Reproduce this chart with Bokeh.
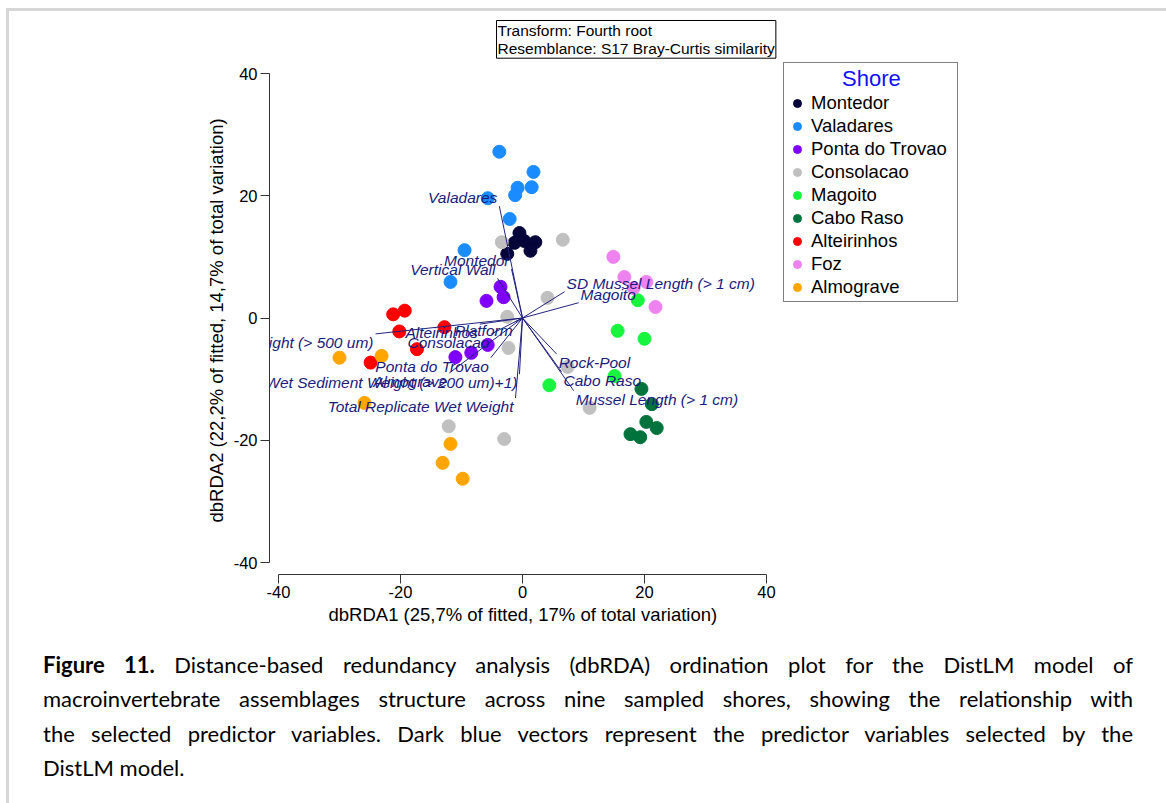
from bokeh.plotting import figure
from bokeh.models import (ColumnDataSource, Label, Range1d, FixedTicker, Title, Div,
                          PrintfTickFormatter)
from bokeh.layouts import column, row
from bokeh.embed import file_html
from bokeh.resources import INLINE
from bokeh.core.properties import value

# ---------------- data ----------------
shores = ["Montedor", "Valadares", "Ponta do Trovao", "Consolacao", "Magoito",
          "Cabo Raso", "Alteirinhos", "Foz", "Almograve"]
shore_colors = ["#05053a", "#1a8cff", "#7f00ff", "#c0c0c0", "#19f53e",
                "#00733c", "#ff0000", "#ee82ee", "#ffa500"]

montedor_x = [-0.5, -1.3, 0.3, 2.1, 1.3, -2.5]
montedor_y = [13.9, 12.3, 12.6, 12.4, 11.0, 10.5]
valadares_x = [-3.8, 1.8, -0.8, -1.2, 1.5, -5.7, -2.1, -9.5, -11.8]
valadares_y = [27.2, 23.9, 21.3, 20.1, 21.4, 19.6, 16.2, 11.1, 5.9]
ponta_x = [-3.6, -3.1, -5.9, -5.7, -8.4, -11.0]
ponta_y = [5.1, 3.4, 2.8, -4.4, -5.7, -6.4]
consolacao_x = [-3.4, 6.6, 4.1, -2.5, -2.3, 7.4, 11.0, -12.1, -3.0]
consolacao_y = [12.4, 12.8, 3.3, 0.2, -4.9, -8.0, -14.7, -17.7, -19.8]
magoito_x = [18.9, 15.6, 20.0, 15.1, 4.4]
magoito_y = [2.9, -2.1, -3.4, -9.5, -11.0]
cabo_x = [19.5, 21.2, 20.3, 22.0, 17.7, 19.3]
cabo_y = [-11.6, -14.1, -17.0, -18.0, -19.0, -19.5]
alteirinhos_x = [-21.2, -19.3, -20.2, -12.8, -17.3, -24.9]
alteirinhos_y = [0.6, 1.2, -2.2, -1.5, -5.1, -7.3]
foz_x = [14.9, 16.7, 20.3, 21.8, 18.2]
foz_y = [10.0, 6.7, 5.9, 1.8, 4.9]
almograve_x = [-30.0, -23.1, -25.9, -11.8, -13.1, -9.8]
almograve_y = [-6.5, -6.2, -13.9, -20.6, -23.7, -26.3]

shore_xs = [montedor_x, valadares_x, ponta_x, consolacao_x, magoito_x,
            cabo_x, alteirinhos_x, foz_x, almograve_x]
shore_ys = [montedor_y, valadares_y, ponta_y, consolacao_y, magoito_y,
            cabo_y, alteirinhos_y, foz_y, almograve_y]

vector_names = ["Valadares", "Montedor", "Vertical Wall", "SD Mussel Length (> 1 cm)",
                "Magoito", "Wet Sediment Weight (> 500 um)", "Alteirinhos", "Platform",
                "Consolacao", "Ponta do Trovao", "Almograve",
                "Log(Wet Sediment Weight (> 200 um)+1)", "Total Replicate Wet Weight",
                "Rock-Pool", "Cabo Raso", "Mussel Length (> 1 cm)"]
vector_x = [-3.8, -1.8, -4.1, 6.9, 9.2, -24.1, -7.0, -1.3, -5.1, -5.2, -12.0,
            -0.5, -1.15, 5.6, 6.4, 8.4]
vector_y = [18.3, 8.0, 6.5, 4.3, 2.5, -2.6, -1.0, -0.65, -2.6, -6.5, -9.0,
            -9.2, -13.1, -5.9, -8.8, -11.9]

axis_ticks = [-40, -20, 0, 20, 40]
x_title = "dbRDA1 (25,7% of fitted, 17% of total variation)"
y_title = "dbRDA2 (22,2% of fitted, 14,7% of total variation)"
info_text = "Transform: Fourth root\nResemblance: S17 Bray-Curtis similarity"
legend_title = "Shore"
caption_bold = "Figure 11."
caption_lines = [
    "Distance-based redundancy analysis (dbRDA) ordination plot for the DistLM model of",
    "macroinvertebrate assemblages structure across nine sampled shores, showing the relationship with",
    "the selected predictor variables. Dark blue vectors represent the predictor variables selected by the",
    "DistLM model.",
]

# ---------------- layout constants (page pixels) ----------------
W, H = 1166, 803
TOP_H = 12          # top strip with the page border line
LEFT_W = 190        # left strip with the page border line
MAIN_H = 640 - TOP_H
CAP_H = H - 640
FL, FT, FB = 269, TOP_H, 574     # frame edges on the page
px_x, px_y = 6.1, 6.1125
x0 = -40 - (278 - FL) / px_x
x1 = 40 + (W - 766) / px_x
y0 = -40 - (FB - 562) / px_y
y1 = 40 + (73 - FT) / px_y
BORDER = "#d6d6d6"
FONT = "Liberation Sans"

# page border pieces (plain HTML boxes)
top = Div(text=(f'<div style="width:{W - 6}px;height:{TOP_H - 8}px;margin:8px 0 0 6px;'
                f'border-top:3px solid {BORDER};border-left:3px solid {BORDER};'
                'box-sizing:border-box;"></div>'),
          width=W, height=TOP_H, margin=0)
left = Div(text=(f'<div style="width:20px;height:{MAIN_H}px;margin-left:6px;'
                 f'border-left:3px solid {BORDER};box-sizing:border-box;"></div>'),
           width=LEFT_W, height=MAIN_H, margin=0)

# main plot
p = figure(width=W - LEFT_W, height=MAIN_H, output_backend="svg", toolbar_location=None,
           x_range=Range1d(x0, x1), y_range=Range1d(y0, y1),
           min_border_left=FL - LEFT_W, min_border_right=0,
           min_border_top=0, min_border_bottom=MAIN_H - (FB - FT), margin=0)
p.background_fill_color = "white"
p.border_fill_color = "white"
p.outline_line_color = None
p.xgrid.visible = False
p.ygrid.visible = False

for ax in (p.xaxis[0], p.yaxis[0]):
    ax.bounds = (-40, 40)
    ax.ticker = FixedTicker(ticks=axis_ticks)
    ax.formatter = PrintfTickFormatter(format="%d")
    ax.minor_tick_line_color = None
    ax.major_tick_in = 0
    ax.major_tick_out = 9
    ax.axis_line_color = "#333333"
    ax.major_tick_line_color = "#333333"
    ax.major_label_text_font = FONT
    ax.major_label_text_font_size = "16.5px"
    ax.major_label_text_color = "black"
p.xaxis.major_label_standoff = 2
p.yaxis.major_label_standoff = 3

p.add_layout(Title(text=x_title, align="left", offset=328 - FL,
                   text_font=FONT, text_font_size="18.5px", text_font_style="normal",
                   text_color="black", standoff=3), "below")
p.add_layout(Title(text=y_title, align="left", offset=FB - 522,
                   text_font=FONT, text_font_size="18.5px", text_font_style="normal",
                   text_color="black", standoff=8), "left")

# points
for name, col, xs, ys in zip(shores, shore_colors, shore_xs, shore_ys):
    p.scatter(xs, ys, size=13, marker="circle", fill_color=col, line_color=col,
              legend_label=name)

# vectors
vsrc = ColumnDataSource(dict(
    x0=[0] * len(vector_x), y0=[0] * len(vector_y), x=vector_x, y=vector_y,
    name=vector_names,
    align=["right" if v < 0 else "left" for v in vector_x],
    base=["bottom" if v > 0 else "top" for v in vector_y],
    xo=[-2 if v < 0 else 2 for v in vector_x],
    yo=[0 for v in vector_y],
))
p.segment(x0="x0", y0="y0", x1="x", y1="y", source=vsrc, line_color="#23237f", line_width=1)
p.text(x="x", y="y", text="name", source=vsrc, text_align="align", text_baseline="base",
       x_offset="xo", y_offset="yo", text_font=value(FONT), text_font_style="italic",
       text_font_size="15.5px", text_color="#1b1b7d")

# legend (title centred with non-breaking spaces)
lg = p.legend[0]
lg.title = "\u00a0" * 9 + legend_title
lg.title_text_font = FONT
lg.title_text_font_size = "22px"
lg.title_text_font_style = "normal"
lg.title_text_color = "#1010ff"
lg.title_standoff = 0
lg.padding = 3
lg.spacing = 1
lg.glyph_width = 20
lg.glyph_height = 20
lg.label_height = 20
lg.label_width = 143
lg.label_standoff = 4
lg.label_text_font = FONT
lg.label_text_font_size = "18.5px"
lg.label_text_color = "black"
lg.border_line_color = "black"
lg.border_line_width = 1
lg.background_fill_color = "white"
lg.background_fill_alpha = 1
lg.margin = 0
lg.location = (783 - FL, FB - 302)


def lab(cx, cy, text, **kw):
    return Label(x=cx - FL, y=FB - cy, x_units="screen", y_units="screen", text=text, **kw)


p.add_layout(lab(496, 20, info_text, text_align="left", text_baseline="top",
                 text_font=FONT, text_font_size="15.5px", text_color="black",
                 text_line_height=1.1, border_line_color="black", border_line_width=1,
                 background_fill_color="white", padding=1))

# caption (justified like the reference)
line_style = "text-align:justify;text-align-last:justify;white-space:nowrap;"
cap_html = (
    f'<div style="width:{W - 6}px;height:{CAP_H}px;margin-left:6px;border-left:3px solid {BORDER};'
    'box-sizing:border-box;padding:8px 33px 0 34px;font-family:Lato;font-size:22px;'
    'line-height:34.3px;color:#000;">'
    f'<div style="{line_style}"><b>{caption_bold}</b> {caption_lines[0]}</div>'
    f'<div style="{line_style}">{caption_lines[1]}</div>'
    f'<div style="{line_style}">{caption_lines[2]}</div>'
    f'<div style="text-align:left;">{caption_lines[3]}</div>'
    '</div>'
)
cap = Div(text=cap_html, width=W, height=CAP_H, margin=0)

layout = column(top, row(left, p, margin=0, spacing=0), cap, margin=0, spacing=0)
open("out.html", "w").write(file_html(layout, INLINE))
